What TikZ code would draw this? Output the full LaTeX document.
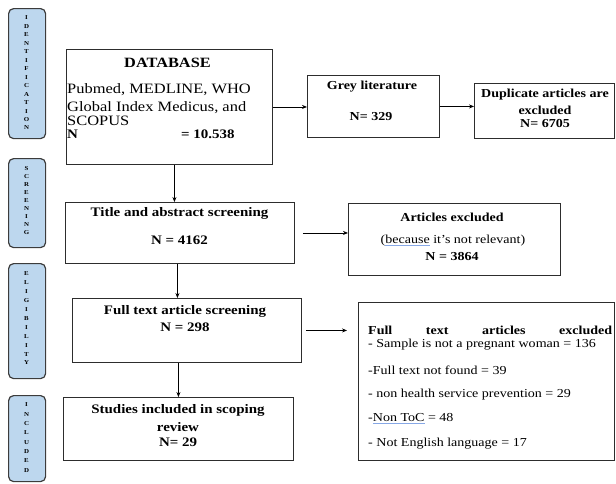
\documentclass[tikz,border=0pt]{standalone}
\usepackage{fontspec}
\setmainfont{Liberation Serif}[FakeStretch=1.15]
\usetikzlibrary{arrows.meta}
\definecolor{tabblue}{RGB}{189,215,238}
\definecolor{tabedge}{RGB}{60,60,60}
\definecolor{boxedge}{RGB}{45,45,45}
\definecolor{ulblue}{RGB}{135,168,230}
\newcommand\blueul[1]{\setbox0\hbox{#1}\rlap{\color{ulblue}\rule[-2.4pt]{\wd0}{1pt}}\box0\relax}
\begin{document}
\begin{tikzpicture}[x=1pt,y=-1pt,
 box/.style={draw=boxedge, line width=0.9pt, inner sep=0pt, anchor=north west},
 tab/.style={draw=tabedge, fill=tabblue, line width=1.2pt, rounded corners=5pt, inner sep=0pt, anchor=north west, minimum width=37pt},
 tabl/.style={font=\fontsize{6}{6}\selectfont\bfseries, inner sep=0pt},
 arr/.style={-{Stealth[length=5pt,width=4pt]}, line width=0.7pt},
 tb/.style={font=\fontsize{13}{15}\selectfont\bfseries, inner sep=0pt},
 tbs/.style={font=\fontsize{12.2}{14}\selectfont\bfseries, inner sep=0pt},
 tr/.style={font=\fontsize{12.2}{14}\selectfont, inner sep=0pt},
 tdb/.style={font=\fontsize{14.3}{17}\selectfont, inner sep=0pt},
 tdbb/.style={font=\fontsize{13}{14}\selectfont\bfseries, inner sep=0pt},
]
\useasboundingbox (0,0) rectangle (616,483);

% side tabs
\node[tab, minimum height=130pt] (tabid) at (8,8) {};
\node[tab, minimum height=89pt] (tabsc) at (8,158) {};
\node[tab, minimum height=115pt] (tabel) at (8,263) {};
\node[tab, minimum height=86pt] (tabin) at (8,395) {};
\foreach \l [count=\i from 0] in {I,D,E,N,T,I,F,I,C,A,T,I,O,N}
  \node[tabl] (lid\i) at (26.5,18+\i*8.46) {\l};
\foreach \l [count=\i from 0] in {S,C,R,E,E,N,I,N,G}
  \node[tabl] (lsc\i) at (26.5,169+\i*7.9) {\l};
\foreach \l [count=\i from 0] in {E,L,I,G,I,B,I,L,I,T,Y}
  \node[tabl] (lel\i) at (26.5,274+\i*8.9) {\l};
\foreach \l [count=\i from 0] in {I,N,C,L,U,D,E,D}
  \node[tabl] (lin\i) at (26.5,405+\i*9.3) {\l};

% boxes
\node[box, minimum width=206pt, minimum height=115pt] (db) at (66,49) {};
\node[box, minimum width=132pt, minimum height=62pt] (grey) at (307,75) {};
\node[box, minimum width=140pt, minimum height=55pt] (dup) at (474,83) {};
\node[box, minimum width=229pt, minimum height=61pt] (title) at (65,202) {};
\node[box, minimum width=212pt, minimum height=72pt] (art) at (348,203) {};
\node[box, minimum width=229pt, minimum height=64pt] (full) at (72,298) {};
\node[box, minimum width=256pt, minimum height=158pt] (fte) at (358,302) {};
\node[box, minimum width=230pt, minimum height=63pt] (stud) at (63,397) {};

% texts
\node[tb, font=\fontsize{14.2}{16}\selectfont\bfseries] (dbt) at (167.5,63) {DATABASE};
\node[tdb, anchor=base west] (db1) at (67,93) {Pubmed, MEDLINE, WHO};
\node[tdb, anchor=base west] (db2) at (67,111) {Global Index Medicus, and};
\node[tdb, anchor=base west] (db3) at (67,125) {SCOPUS};
\node[tdbb, anchor=base west] (db4) at (67,138) {N};
\node[tdbb, anchor=base west] (db5) at (181,138) {= 10.538};

\node[tbs] (g1) at (372,87) {Grey literature};
\node[tbs] (g2) at (371,117) {N= 329};

\node[tbs] (d1) at (545,95) {Duplicate articles are};
\node[tbs] (d2) at (545,110) {excluded};
\node[tbs] (d3) at (545,123) {N= 6705};

\node[tb] (t1) at (179.5,213) {Title and abstract screening};
\node[tb] (t2) at (179.5,240) {N = 4162};

\node[tbs] (a1) at (452,217) {Articles excluded};
\node[tr] (a2) at (453,241) {(\blueul{because} it's not relevant)};
\node[tbs] (a3) at (452,256) {N = 3864};

\node[tb] (f1) at (185,311) {Full text article screening};
\node[tb] (f2) at (185,327) {N = 298};

\node[tb] (s1) at (178,410) {Studies included in scoping};
\node[tb] (s2) at (178,427) {review};
\node[tb] (s3) at (178,442) {N= 29};

\node[tbs, anchor=west] (e0) at (368,330) {\makebox[244pt][s]{Full text articles excluded}};
\node[tr, anchor=west] (e1) at (368,345) {- Sample is not a pregnant woman = 136};
\node[tr, anchor=west] (e2) at (368,370) {-Full text not found = 39};
\node[tr, anchor=west] (e3) at (368,395) {- non health service prevention = 29};
\node[tr, anchor=west] (e4) at (368,419) {-\blueul{Non ToC} = 48};
\node[tr, anchor=west] (e5) at (368,444) {- Not English language = 17};

% connectors
\draw[arr] (db.east) -- (db.east -| grey.west);
\draw[arr] (grey.east) -- (grey.east -| dup.west);
\draw[arr] ([xshift=5pt]db.south) -- ([xshift=5pt]db.south |- title.north);
\draw[arr] ([xshift=-2.5pt]title.south) -- ([xshift=-2.5pt]title.south |- full.north);
\draw[arr] (stud.north |- full.south) -- (stud.north);
\draw[arr] ([xshift=8pt]title.east) -- (title.east -| art.west);
\coordinate (fteend) at ([xshift=-11pt]full.east -| fte.west);
\draw[arr] ([xshift=4pt]full.east) -- (fteend);
\end{tikzpicture}
\end{document}
